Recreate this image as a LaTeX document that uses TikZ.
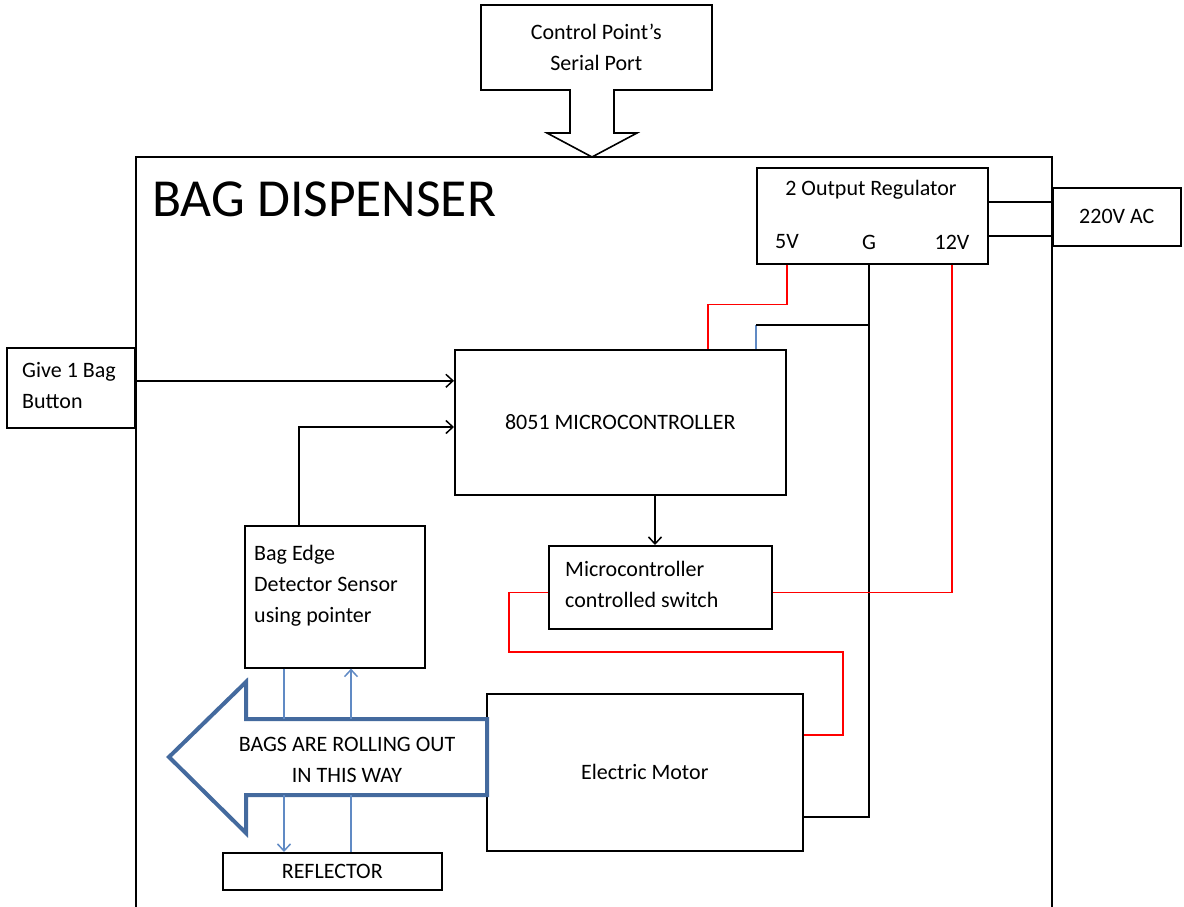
\documentclass[tikz,border=0pt]{standalone}
\usepackage{fontspec}
\setmainfont{Carlito}
\usepackage{xcolor}
\usepackage{tikz}
\usetikzlibrary{arrows.meta, positioning}

\definecolor{flowblue}{RGB}{68,106,158}
\definecolor{beamblue}{RGB}{96,138,196}
\newcommand{\lbl}{\fontsize{22}{31}\selectfont}

\begin{document}
\begin{tikzpicture}[
    x=1pt, y=-1pt,
    >={Straight Barb[length=7pt,width=13pt]},
    unit/.style={
        rectangle,
        draw,
        line width=1.6pt,
        inner sep=0pt,
        align=center,
        anchor=north west,
        font=\lbl
    },
    txt/.style={inner sep=0pt, align=left, anchor=west, font=\lbl},
    volt/.style={inner sep=0pt, font=\lbl},
    sig/.style={->, line width=1.5pt},
    wire/.style={line width=1.6pt},
    pwr/.style={line width=1.5pt, red},
    beam/.style={line width=1.5pt, beamblue}
]
\useasboundingbox (0,0) rectangle (1184,906);

% dispenser housing, open at the bottom
\draw[wire] (136,910) -- (136,157) -- (1052,157) -- (1052,910);
\node[txt, font=\fontsize{53.5}{60}\selectfont] (title) at (152,199) {BAG DISPENSER};

\node[unit, minimum width=231pt, minimum height=85pt] (port) at (480,4) {Control Point’s\\Serial Port};

\node[unit, minimum width=231pt, minimum height=96pt] (reg) at (756,167) {};
\node[volt] (regname) at (871,190) {2 Output Regulator};
\node[volt] (v5) at (787,242) {5V};
\node[volt] (gnd) at (869,242) {G};
\node[volt] (v12) at (952,242) {12V};

\node[unit, minimum width=128pt, minimum height=58pt] (ac) at (1052,187) {220V AC};

\node[unit, minimum width=128pt, minimum height=80pt] (btn) at (6,347) {};
\node[txt] (btntxt) at (22,386) {Give 1 Bag\\Button};

\node[unit, minimum width=331pt, minimum height=145pt] (mcu) at (454,349) {8051 MICROCONTROLLER};

\node[unit, minimum width=180pt, minimum height=142pt] (sensor) at (244,525) {};
\node[txt] (sensortxt) at (254,586) {Bag Edge\\Detector Sensor\\using pointer};

\node[unit, minimum width=223pt, minimum height=83pt] (sw) at (548,545) {};
\node[txt] (swtxt) at (565,584) {Microcontroller\\controlled switch};

\node[unit, minimum width=316pt, minimum height=157pt] (motor) at (486,693) {Electric Motor};

\node[unit, minimum width=219pt, minimum height=37pt] (refl) at (222,852) {REFLECTOR};

% serial port input (hollow arrow)
\draw[wire, fill=white] (570,89) -- (570,133) -- (547,133) -- (592,157)
    -- (637,133) -- (614,133) -- (614,89);

% mains
\draw[wire] ([yshift=-35pt]reg.north east) -- ([yshift=-35pt]reg.north east -| ac.west);
\draw[wire] ([yshift=-69pt]reg.north east) -- ([yshift=-69pt]reg.north east -| ac.west);

% supply lines
\draw[pwr] (reg.south -| v5) -- ++(0,40) -| ([xshift=254pt]mcu.north west);
\draw[beam] ([xshift=302pt]mcu.north west) -- ++(0,-24) coordinate (gtap);
\draw[wire] (gtap) -- (gtap -| gnd);
\draw[wire] (reg.south -| gnd) |- ([yshift=-124pt]motor.north east);
\draw[pwr] (reg.south -| v12) |- ([yshift=-5pt]sw.east);
\draw[pwr] ([yshift=-5pt]sw.west) -- ++(-39,0) |- (843,652) |- ([yshift=-42pt]motor.north east);

% signals
\draw[sig] ([yshift=7pt]btn.east) -- ([yshift=7pt]btn.east -| mcu.west);
\draw[sig] ([xshift=55pt]sensor.north west) |- ([yshift=-78pt]mcu.north west);
\draw[sig] ([xshift=201pt]mcu.south west) -- ([xshift=201pt]mcu.south west |- sw.north);

% bag exit
\draw[flowblue, line width=4pt, fill=white] (169,757) -- (246,682) -- (246,719)
    coordinate (flowtop) -- (487,719) -- (487,795) -- (246,795) coordinate (flowbot)
    -- (246,833) -- cycle;
\node[volt, align=center] (flowtxt) at (347,760) {BAGS ARE ROLLING OUT\\IN THIS WAY};

% light beam
\draw[beam] ([xshift=40pt]sensor.south west) -- ([xshift=40pt]sensor.south west |- flowtop);
\draw[beam, ->] ([xshift=40pt]sensor.south west |- flowbot) -- ([xshift=40pt]sensor.south west |- refl.north);
\draw[beam] ([xshift=129pt]refl.north west) -- ([xshift=129pt]refl.north west |- flowbot);
\draw[beam, ->] ([xshift=129pt]refl.north west |- flowtop) -- ([xshift=129pt]refl.north west |- sensor.south);

\end{tikzpicture}
\end{document}
